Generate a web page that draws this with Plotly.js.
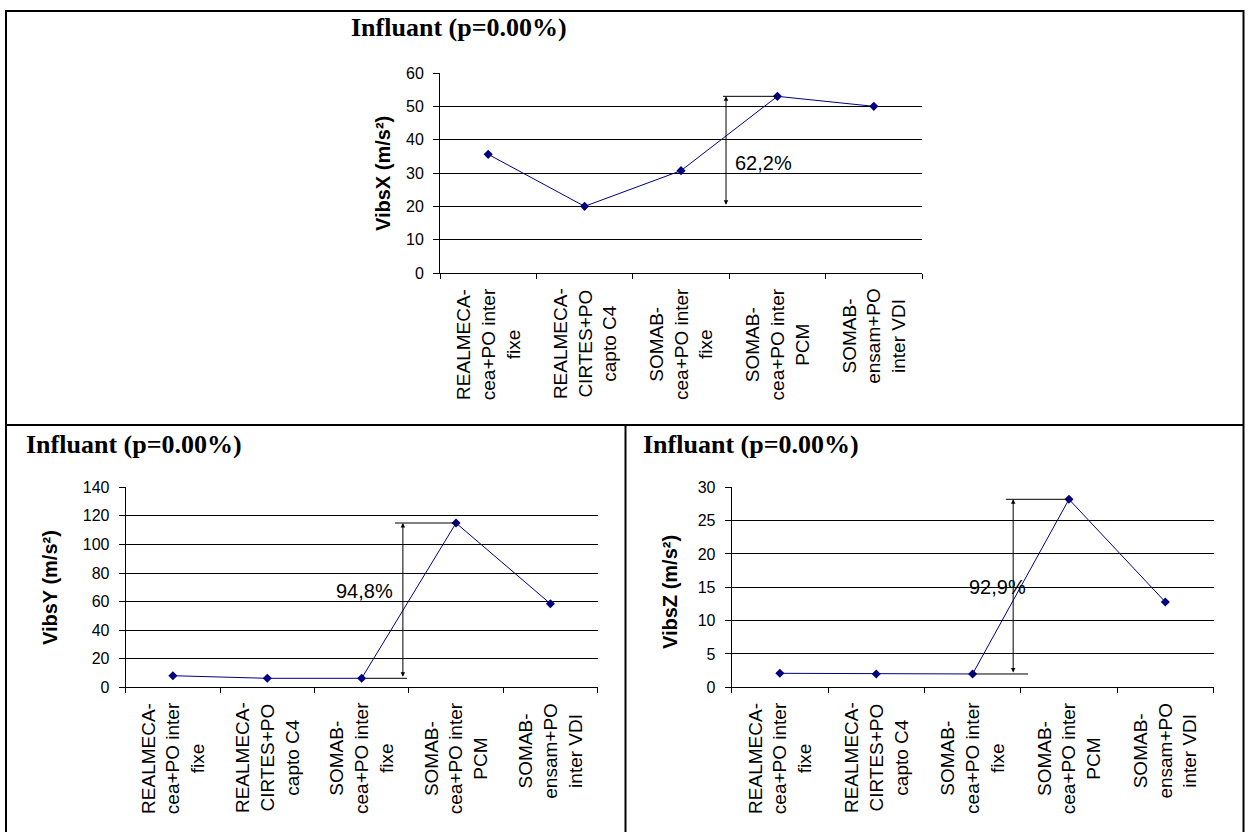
<!DOCTYPE html>
<html><head><meta charset="utf-8">
<script src="https://cdn.plot.ly/plotly-3.0.1.min.js"></script>
<style>html,body{margin:0;padding:0;background:#fff}#chart{width:1250px;height:832px}</style>
</head><body><div id="chart"></div>
<script>
// ---- data ----
const categories = [
  "REALMECA-cea+PO inter fixe",
  "REALMECA-CIRTES+PO capto C4",
  "SOMAB-cea+PO inter fixe",
  "SOMAB-cea+PO inter PCM",
  "SOMAB-ensam+PO inter VDI"
];
const tickLabels = [
  "REALMECA-<br>cea+PO inter<br>fixe",
  "REALMECA-<br>CIRTES+PO<br>capto C4",
  "SOMAB-<br>cea+PO inter<br>fixe",
  "SOMAB-<br>cea+PO inter<br>PCM",
  "SOMAB-<br>ensam+PO<br>inter VDI"
];
const vibsX = [35.6, 20.0, 30.7, 53.0, 50.0];
const vibsY = [8.1, 6.3, 6.3, 115.0, 58.5];
const vibsZ = [2.1, 2.0, 2.0, 28.2, 12.8];
const chartTitles = ["Influant (p=0.00%)", "Influant (p=0.00%)", "Influant (p=0.00%)"];
const yTitles = ["VibsX (m/s²)", "VibsY (m/s²)", "VibsZ (m/s²)"];
const pctLabels = ["62,2%", "94,8%", "92,9%"];
const yMax = [60, 140, 30];
const yStep = [10, 20, 5];

// ---- layout helpers ----
const W = 1250, H = 832;
const px = v => v / W;
const py = v => 1 - v / H;
const NAVY = '#000080';
const SANS = 'Liberation Sans, Arial, sans-serif';
const SERIF = 'Liberation Serif, Times New Roman, serif';

const series = [vibsX, vibsY, vibsZ];
const panels = [
  {x0: 440, x1: 922, yTop: 73, yBot: 273, titleX: 349, titleY: 28, yTitleX: 383, yTitleY: 174,
   low: 1, arrowX: 2.467, topLine: [2.436, 2.996], botLine: null, pct: [2.856, 33.1]},
  {x0: 125.7, x1: 597.6, yTop: 487.3, yBot: 687.3, titleX: 24, titleY: 444, yTitleX: 50, yTitleY: 588,
   low: 2, arrowX: 2.437, topLine: [2.353, 2.983], botLine: [2.041, 2.480], pct: [2.03, 67.4]},
  {x0: 731.7, x1: 1213.5, yTop: 487.3, yBot: 687.3, titleX: 641, titleY: 444, yTitleX: 670, yTitleY: 592,
   low: 2, arrowX: 2.421, topLine: [2.345, 3.003], botLine: [2.011, 2.575], pct: [2.262, 15.05]}
];

const traces = [];
const layout = {
  width: W, height: H, autosize: false,
  margin: {l: 0, r: 0, t: 0, b: 0},
  paper_bgcolor: '#fff', plot_bgcolor: 'rgba(0,0,0,0)',
  showlegend: false,
  font: {family: SANS, color: '#000'},
  annotations: [], shapes: []
};

panels.forEach((p, k) => {
  const sfx = k === 0 ? '' : String(k + 1);
  const xa = 'x' + sfx, ya = 'y' + sfx;
  const data = series[k];
  traces.push({
    type: 'scatter', mode: 'lines+markers',
    x: categories, y: data, xaxis: xa, yaxis: ya,
    line: {color: NAVY, width: 1},
    marker: {symbol: 'diamond', size: 7, color: NAVY},
    hoverinfo: 'x+y'
  });
  layout['xaxis' + sfx] = {
    domain: [px(p.x0), px(p.x1)], anchor: ya,
    type: 'category', categoryorder: 'array', categoryarray: categories,
    range: [-0.5, categories.length - 0.5],
    showgrid: false, zeroline: false,
    showline: true, linecolor: '#000', linewidth: 1,
    ticks: 'outside', tickson: 'boundaries', ticklen: 5, tickcolor: '#000', tickwidth: 1,
    showticklabels: false, fixedrange: true
  };
  layout['yaxis' + sfx] = {
    domain: [py(p.yBot), py(p.yTop)], anchor: xa,
    range: [0, yMax[k]], dtick: yStep[k], tick0: 0,
    showgrid: true, gridcolor: '#000', gridwidth: 1,
    zeroline: false, showline: true, linecolor: '#000', linewidth: 1,
    ticks: 'outside', ticklen: 6, tickcolor: '#000', tickwidth: 1,
    ticklabelstandoff: 6,
    tickfont: {family: SANS, size: 16, color: '#000'}, fixedrange: true
  };
  // chart title
  layout.annotations.push({
    xref: 'paper', yref: 'paper', x: px(p.titleX), y: py(p.titleY),
    xanchor: 'left', yanchor: 'middle', showarrow: false,
    text: '<b>' + chartTitles[k] + '</b>',
    font: {family: SERIF, size: 26, color: '#000'}
  });
  // y axis title
  layout.annotations.push({
    xref: 'paper', yref: 'paper', x: px(p.yTitleX), y: py(p.yTitleY),
    xanchor: 'center', yanchor: 'middle', showarrow: false, textangle: -90,
    text: '<b>' + yTitles[k] + '</b>',
    font: {family: SANS, size: 20, color: '#000'}
  });
  // category labels
  tickLabels.forEach((t, i) => {
    layout.annotations.push({
      xref: xa, yref: 'paper', x: i, y: py(p.yBot), yshift: -13,
      xanchor: 'center', yanchor: 'top', showarrow: false, textangle: -90,
      align: 'center', text: t,
      font: {family: SANS, size: 19, color: '#000'}
    });
  });
  // difference arrow
  const hi = data[3], lo = data[p.low];
  layout.annotations.push({
    xref: xa, yref: ya, axref: xa, ayref: ya,
    x: p.arrowX, y: hi, ax: p.arrowX, ay: lo,
    text: '', showarrow: true, arrowside: 'end+start',
    arrowhead: 2, arrowsize: 0.9, arrowwidth: 1, arrowcolor: '#000',
    standoff: 0, startstandoff: 0
  });
  layout.shapes.push({type: 'line', xref: xa, yref: ya,
    x0: p.topLine[0], x1: p.topLine[1], y0: hi, y1: hi, line: {color: '#000', width: 1}});
  if (p.botLine) {
    layout.shapes.push({type: 'line', xref: xa, yref: ya,
      x0: p.botLine[0], x1: p.botLine[1], y0: lo, y1: lo, line: {color: '#000', width: 1}});
  }
  layout.annotations.push({
    xref: xa, yref: ya, x: p.pct[0], y: p.pct[1],
    xanchor: 'center', yanchor: 'middle', showarrow: false,
    text: pctLabels[k], font: {family: SANS, size: 20, color: '#000'}
  });
});

// panel frame
const frame = {color: '#000', width: 2};
layout.shapes.push({type: 'rect', xref: 'paper', yref: 'paper',
  x0: px(6), x1: px(1243.5), y0: py(834), y1: py(11), line: frame});
layout.shapes.push({type: 'line', xref: 'paper', yref: 'paper',
  x0: px(6), x1: px(1243.5), y0: py(425), y1: py(425), line: frame});
layout.shapes.push({type: 'line', xref: 'paper', yref: 'paper',
  x0: px(625.5), x1: px(625.5), y0: py(425), y1: py(834), line: frame});

Plotly.newPlot('chart', traces, layout, {displayModeBar: false, staticPlot: true});
</script></body></html>
